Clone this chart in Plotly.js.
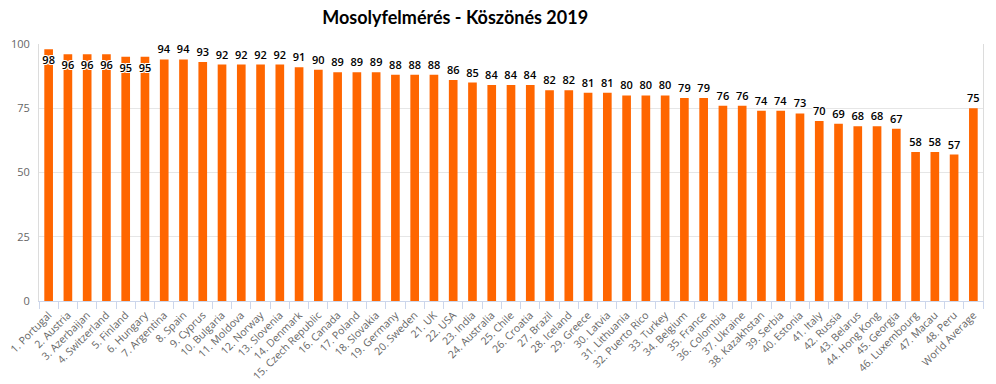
<!DOCTYPE html>
<html>
<head>
<meta charset="utf-8">
<script src="https://cdn.plot.ly/plotly-3.0.1.min.js"></script>
<style>html,body{margin:0;padding:0;background:#fff;}#chart{width:996px;height:384px;}</style>
</head>
<body>
<div id="chart"></div>
<script>
const categories = ["1. Portugal","2. Austria","3. Azerbaijan","4. Switzerland","5. Finland","6. Hungary","7. Argentina","8. Spain","9. Cyprus","10. Bulgaria","11. Moldova","12. Norway","13. Slovenia","14. Denmark","15. Czech Republic","16. Canada","17. Poland","18. Slovakia","19. Germany","20. Sweden","21. UK","22. USA","23. India","24. Australia","25. Chile","26. Croatia","27. Brazil","28. Iceland","29. Greece","30. Latvia","31. Lithuania","32. Puerto Rico","33. Turkey","34. Belgium","35. France","36. Colombia","37. Ukraine","38. Kazakhstan","39. Serbia","40. Estonia","41. Italy","42. Russia","43. Belarus","44. Hong Kong","45. Georgia","46. Luxembourg","47. Macau","48. Peru","World Average"];
const values = [98,96,96,96,95,95,94,94,93,92,92,92,92,91,90,89,89,89,88,88,88,86,85,84,84,84,82,82,81,81,80,80,80,79,79,76,76,74,74,73,70,69,68,68,67,58,58,57,75];
const yTicks = [0,25,50,75,100];
const title = "Mosolyfelmérés - Köszönés 2019";

const positions = values.map((v, i) => i < 6 ? 'inside' : 'outside');
const outline = '1px 1px 0 #fff, -1px -1px 0 #fff, 1px -1px 0 #fff, -1px 1px 0 #fff';

const trace = {
  type: 'bar',
  x: categories,
  y: values,
  marker: {color: '#FF6600', line: {width: 0}},
  text: values.map(String),
  textposition: positions,
  insidetextanchor: 'end',
  constraintext: 'none',
  cliponaxis: false,
  textangle: 0,
  textfont: {family: 'Open Sans, DejaVu Sans, sans-serif', size: 11, color: '#000', weight: 600, shadow: outline},
  insidetextfont: {family: 'Open Sans, DejaVu Sans, sans-serif', size: 11, color: '#000', weight: 600, shadow: outline},
  outsidetextfont: {family: 'Open Sans, DejaVu Sans, sans-serif', size: 11, color: '#000', weight: 600},
  hoverinfo: 'x+y'
};

const layout = {
  width: 996, height: 384,
  margin: {l: 39, r: 13, t: 44, b: 83, pad: 0},
  paper_bgcolor: '#fff', plot_bgcolor: '#fff',
  bargap: 0.55,
  showlegend: false,
  title: {
    text: '<b>' + title + '</b>',
    font: {family: 'Lato, Open Sans, sans-serif', size: 18, color: '#000'},
    xref: 'container', yref: 'container',
    x: 0.457, xanchor: 'center', y: 0.955, yanchor: 'middle'
  },
  xaxis: {
    type: 'category',
    tickangle: -45,
    tickfont: {family: 'Open Sans, DejaVu Sans, sans-serif', size: 10.5, color: '#666'},
    showline: true, linecolor: '#ccd6eb', linewidth: 1,
    mirror: false,
    ticks: 'outside', tickson: 'boundaries', ticklen: 7, tickcolor: '#ccd6eb', tickwidth: 1,
    ticklabelstandoff: 3,
    showgrid: false, zeroline: false,
    fixedrange: true
  },
  yaxis: {
    range: [0, 100],
    tickvals: yTicks,
    ticktext: yTicks.map(String),
    tickfont: {family: 'Open Sans, DejaVu Sans, sans-serif', size: 11, color: '#666'},
    showgrid: true, gridcolor: '#e6e6e6', gridwidth: 1,
    zeroline: false,
    showline: true, linecolor: '#dcdcdc', linewidth: 1, mirror: true,
    ticks: '', ticklabelstandoff: 6,
    fixedrange: true
  }
};

Plotly.newPlot('chart', [trace], layout, {displayModeBar: false, staticPlot: true});
</script>
</body>
</html>
